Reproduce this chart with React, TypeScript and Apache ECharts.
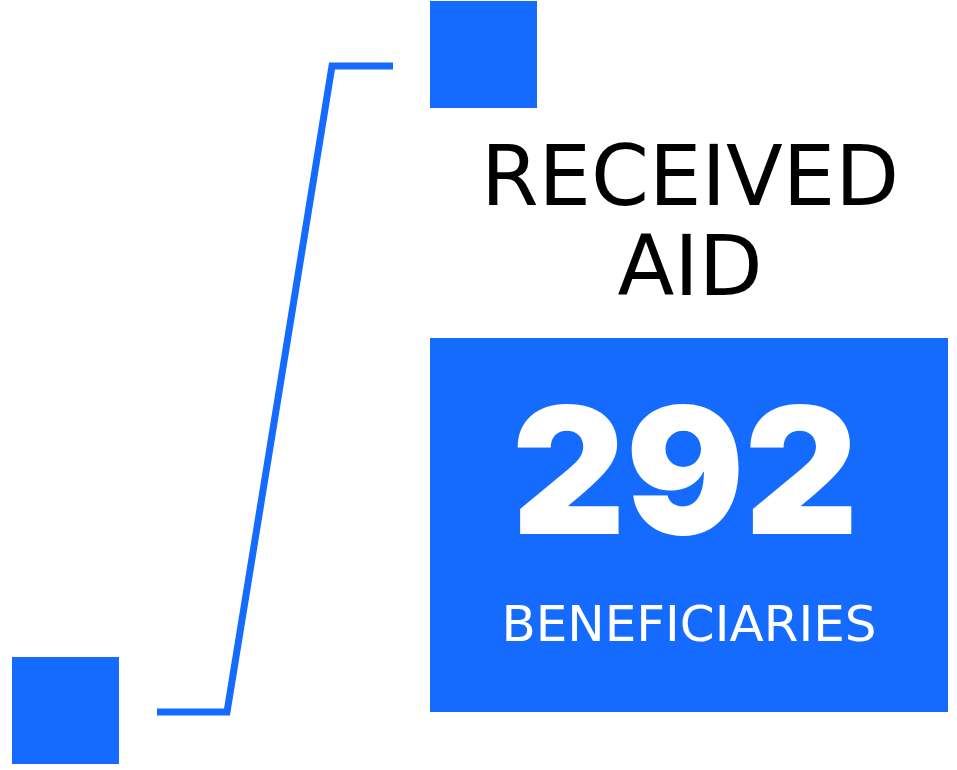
import React, { useEffect, useRef } from "react";
import * as echarts from "echarts";

const BLUE = "#156BFD";
const titleLines: string[] = ["RECEIVED", "AID"];
const values: number[] = [292];
const units: string[] = ["BENEFICIARIES"];

export default function App() {
  const ref = useRef<HTMLDivElement>(null);
  useEffect(() => {
    document.body.style.margin = "0";
    const chart = echarts.init(ref.current!, undefined, { renderer: "svg" });
    chart.setOption({
      animation: false,
      backgroundColor: "#ffffff",
      graphic: [
        { type: "rect", shape: { x: 430, y: 1, width: 107, height: 107 }, style: { fill: BLUE } },
        { type: "rect", shape: { x: 12, y: 657, width: 107, height: 107 }, style: { fill: BLUE } },
        {
          type: "polyline",
          shape: { points: [[393, 66], [332, 66], [227, 712], [157, 712]] },
          style: { stroke: BLUE, lineWidth: 7, fill: null, lineJoin: "miter" },
        },
        { type: "rect", shape: { x: 430, y: 338, width: 518, height: 374 }, style: { fill: BLUE } },
        {
          type: "text",
          x: 690,
          y: 176,
          style: {
            text: titleLines[0],
            fill: "#000",
            font: "400 83px 'DejaVu Sans'",
            textAlign: "center",
            textVerticalAlign: "middle",
          },
        },
        {
          type: "text",
          x: 690,
          y: 266,
          style: {
            text: titleLines[1],
            fill: "#000",
            font: "400 83px 'DejaVu Sans'",
            textAlign: "center",
            textVerticalAlign: "middle",
          },
        },
        {
          type: "text",
          x: 685,
          y: 469,
          style: {
            text: String(values[0]),
            fill: "#fff",
            font: "900 176px Inter",
            textAlign: "center",
            textVerticalAlign: "middle",
          },
        },
        {
          type: "text",
          x: 689,
          y: 624,
          style: {
            text: units[0],
            fill: "#fff",
            font: "400 50px 'DejaVu Sans'",
            textAlign: "center",
            textVerticalAlign: "middle",
          },
        },
      ],
    });
    return () => chart.dispose();
  }, []);
  return <div ref={ref} style={{ width: 957, height: 770 }} />;
}
